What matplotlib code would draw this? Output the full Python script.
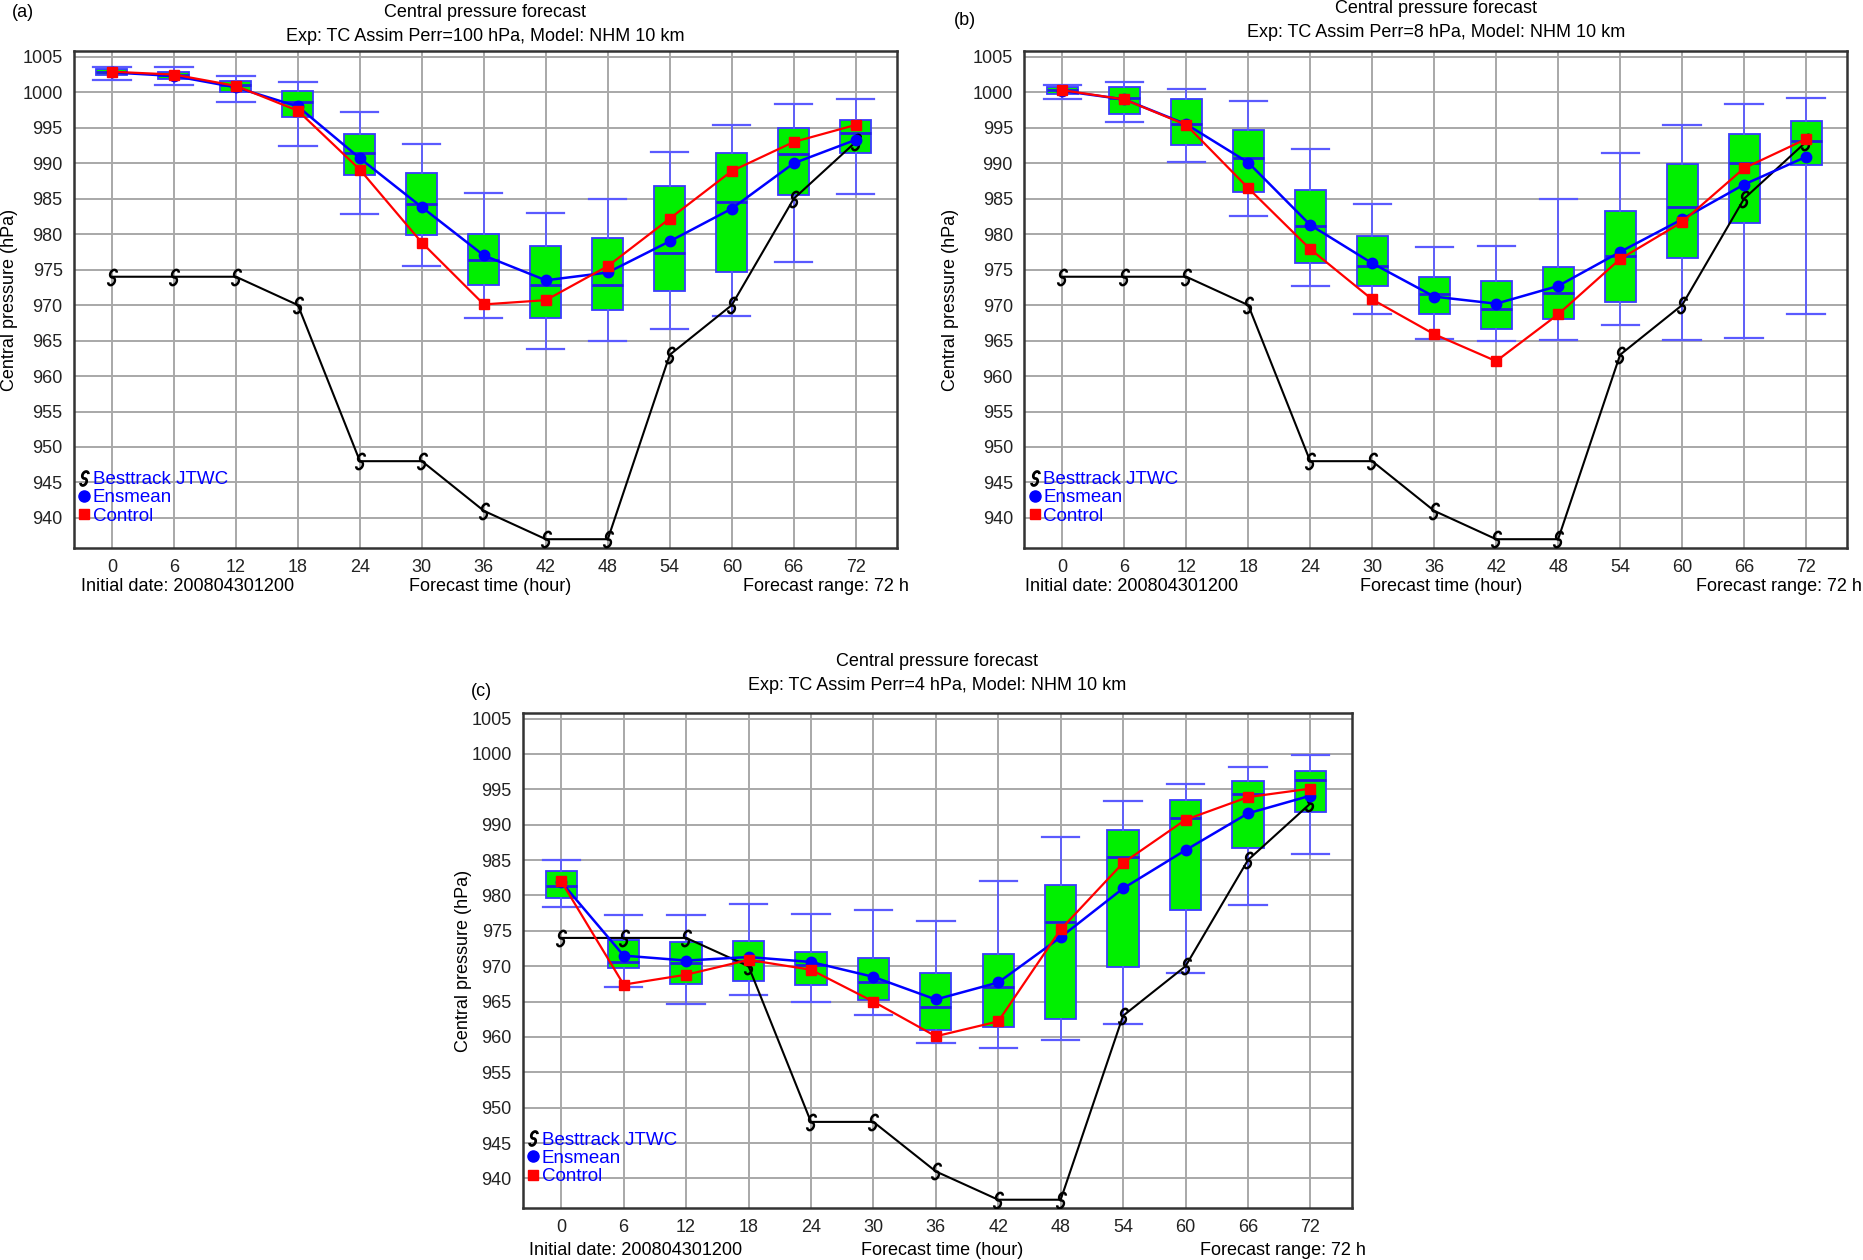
import matplotlib
matplotlib.use("Agg")
import matplotlib.pyplot as plt
import numpy as np
from matplotlib.lines import Line2D
from matplotlib.path import Path

plt.rcParams["font.family"] = ["Liberation Sans", "DejaVu Sans"]

hours = [0, 6, 12, 18, 24, 30, 36, 42, 48, 54, 60, 66, 72]
besttrack = [974, 974, 974, 970, 948, 948, 941, 937, 937, 963, 970, 985, 993]

# panel (a) Perr=100 hPa
a_whislo = [1001.8, 1001.0, 998.7, 992.5, 982.8, 975.5, 968.2, 963.8, 965.0, 966.7, 968.4, 976.1, 985.7]
a_q1 = [1002.4, 1001.9, 1000.0, 996.5, 988.4, 979.9, 972.8, 968.2, 969.3, 972.0, 974.6, 985.5, 991.5]
a_med = [1002.8, 1002.4, 1001.0, 998.7, 991.5, 984.2, 976.4, 972.8, 972.9, 977.3, 984.6, 991.3, 994.3]
a_q3 = [1003.3, 1002.9, 1001.6, 1000.2, 994.1, 988.6, 980.0, 978.4, 979.4, 986.8, 991.5, 994.9, 996.1]
a_whishi = [1003.6, 1003.5, 1002.3, 1001.4, 997.2, 992.7, 985.8, 983.0, 985.0, 991.6, 995.4, 998.4, 999.1]
a_mean = [1002.8, 1002.3, 1000.7, 998.0, 990.7, 983.8, 977.0, 973.5, 974.6, 979.0, 983.6, 990.0, 993.3]
a_ctrl = [1002.9, 1002.5, 1000.9, 997.4, 989.1, 978.8, 970.1, 970.7, 975.5, 982.2, 988.9, 993.0, 995.4]

# panel (b) Perr=8 hPa
b_whislo = [999.0, 995.8, 990.2, 982.6, 972.7, 968.7, 965.2, 965.0, 965.1, 967.2, 965.1, 965.3, 968.7]
b_q1 = [999.7, 997.0, 992.6, 985.9, 975.9, 972.7, 968.8, 966.6, 968.1, 970.4, 976.6, 981.6, 989.7]
b_med = [1000.3, 999.2, 995.5, 990.8, 981.1, 975.5, 971.5, 969.5, 971.7, 976.9, 983.9, 990.0, 993.1]
b_q3 = [1000.7, 1000.7, 999.0, 994.7, 986.2, 979.7, 974.0, 973.4, 975.4, 983.2, 989.9, 994.1, 996.0]
b_whishi = [1001.0, 1001.5, 1000.4, 998.8, 992.0, 984.3, 978.2, 978.3, 985.0, 991.5, 995.4, 998.4, 999.2]
b_mean = [1000.2, 999.0, 995.5, 990.1, 981.3, 975.9, 971.2, 970.2, 972.7, 977.5, 982.1, 987.0, 990.9]
b_ctrl = [1000.3, 999.0, 995.4, 986.5, 977.9, 970.8, 965.9, 962.1, 968.7, 976.5, 981.7, 989.3, 993.4]

# panel (c) Perr=4 hPa
c_whislo = [978.3, 967.0, 964.6, 966.0, 965.0, 963.1, 959.1, 958.5, 959.6, 961.8, 969.0, 978.7, 985.9]
c_q1 = [979.7, 969.7, 967.5, 967.9, 967.3, 965.2, 961.0, 961.4, 962.6, 969.9, 978.0, 986.7, 991.8]
c_med = [981.4, 970.6, 970.5, 970.8, 970.2, 967.8, 964.3, 967.0, 976.2, 985.5, 990.9, 994.4, 996.3]
c_q3 = [983.4, 973.7, 973.4, 973.5, 972.0, 971.2, 969.0, 971.7, 981.5, 989.2, 993.5, 996.2, 997.6]
c_whishi = [985.0, 977.3, 977.2, 978.8, 977.4, 977.9, 976.4, 982.0, 988.3, 993.4, 995.8, 998.1, 999.8]
c_mean = [981.9, 971.5, 970.8, 971.3, 970.6, 968.5, 965.3, 967.7, 974.1, 981.0, 986.4, 991.6, 994.1]
c_ctrl = [982.0, 967.4, 968.8, 970.9, 969.5, 965.0, 960.1, 962.2, 975.2, 984.6, 990.7, 993.9, 995.1]

panels = [
    dict(tag="(a)", perr="100", rect=[0.0396, 0.5653, 0.4419, 0.3941],
         stats=(a_whislo, a_q1, a_med, a_q3, a_whishi), mean=a_mean, ctrl=a_ctrl,
         t1=1.077, t2=1.029, tag_xy=(-0.075, 1.077), ylab_x=-0.078,
         info_y=-0.079, info_l=0.009, info_r=1.014),
    dict(tag="(b)", perr="8", rect=[0.5497, 0.5653, 0.4419, 0.3941],
         stats=(b_whislo, b_q1, b_med, b_q3, b_whishi), mean=b_mean, ctrl=b_ctrl,
         t1=1.086, t2=1.038, tag_xy=(-0.085, 1.062), ylab_x=-0.089,
         info_y=-0.079, info_l=0.0015, info_r=1.018),
    dict(tag="(c)", perr="4", rect=[0.2806, 0.0411, 0.4451, 0.3931],
         stats=(c_whislo, c_q1, c_med, c_q3, c_whishi), mean=c_mean, ctrl=c_ctrl,
         t1=1.103, t2=1.056, tag_xy=(-0.063, 1.043), ylab_x=-0.072,
         info_y=-0.086, info_l=0.007, info_r=1.017),
]

FS = 13


def tc_symbol():
    # open "S"-like tropical cyclone glyph
    t1 = np.radians(np.linspace(15, 270, 30))
    upper = np.column_stack([0.42 * np.cos(t1), 0.5 + 0.5 * np.sin(t1)])
    t2 = np.radians(np.linspace(90, -165, 30))
    lower = np.column_stack([0.42 * np.cos(t2), -0.5 + 0.5 * np.sin(t2)])
    verts = np.vstack([upper, lower[1:]])
    verts = verts @ np.array([[1.0, 0.0], [0.25, 1.0]])
    codes = [Path.MOVETO] + [Path.LINETO] * (len(verts) - 1)
    return Path(verts, codes)


TC_MARKER = tc_symbol()

fig = plt.figure(figsize=(18.63, 12.6), dpi=100)

for p in panels:
    ax = fig.add_axes(p["rect"])
    lo, q1, med, q3, hi = p["stats"]
    bstats = [
        dict(whislo=lo[i], q1=q1[i], med=med[i], q3=q3[i], whishi=hi[i], fliers=[])
        for i in range(len(hours))
    ]
    ax.bxp(bstats, positions=hours, widths=3.0, capwidths=3.6, showfliers=False,
           patch_artist=True, manage_ticks=False,
           boxprops=dict(facecolor="#00f000", edgecolor="#3a3aff", linewidth=1.3),
           medianprops=dict(color="#2020e0", linewidth=2.0),
           whiskerprops=dict(color="#5a5aff", linewidth=1.3),
           capprops=dict(color="#5a5aff", linewidth=1.6), zorder=2)

    ax.plot(hours, besttrack, color="black", lw=1.5, marker=TC_MARKER,
            markersize=11, markerfacecolor="none", markeredgecolor="black",
            markeredgewidth=1.8, zorder=3)
    ax.plot(hours, p["mean"], color="#0000ff", lw=1.8, marker="o",
            markersize=7.5, zorder=4)
    ax.plot(hours, p["ctrl"], color="#ff0000", lw=1.6, marker="s",
            markersize=6.5, zorder=5)

    ax.set_xlim(-3.7, 76)
    ax.set_ylim(935.8, 1005.8)
    ax.set_xticks(hours)
    ax.set_yticks(range(940, 1006, 5))
    ax.tick_params(length=0, labelsize=FS, pad=8, colors="#222222")
    ax.grid(True, color="#a8a8a8", lw=1.4)
    ax.set_axisbelow(True)
    for sp in ax.spines.values():
        sp.set_linewidth(1.8)
        sp.set_color("#333333")

    ax.text(0.5, p["t1"], "Central pressure forecast", transform=ax.transAxes,
            ha="center", va="center", fontsize=FS)
    ax.text(0.5, p["t2"], f"Exp: TC Assim Perr={p['perr']} hPa, Model: NHM 10 km",
            transform=ax.transAxes, ha="center", va="center", fontsize=FS)
    ax.text(p["tag_xy"][0], p["tag_xy"][1], p["tag"], transform=ax.transAxes,
            ha="left", va="center", fontsize=FS)
    ax.text(p["ylab_x"], 0.5, "Central pressure (hPa)", transform=ax.transAxes,
            rotation=90, ha="center", va="center", fontsize=FS)
    ax.text(p["info_l"], p["info_y"], "Initial date: 200804301200", transform=ax.transAxes,
            ha="left", va="center", fontsize=FS)
    ax.text(0.506, p["info_y"], "Forecast time (hour)", transform=ax.transAxes,
            ha="center", va="center", fontsize=FS)
    ax.text(p["info_r"], p["info_y"], "Forecast range: 72 h", transform=ax.transAxes,
            ha="right", va="center", fontsize=FS)

    handles = [
        Line2D([], [], marker=TC_MARKER, markersize=10, markerfacecolor="none",
               markeredgecolor="black", markeredgewidth=2.0, linestyle="none"),
        Line2D([], [], color="#0000ff", marker="o", markersize=8, linestyle="none"),
        Line2D([], [], color="#ff0000", marker="s", markersize=7, linestyle="none"),
    ]
    ax.legend(handles, ["Besttrack JTWC", "Ensmean", "Control"], loc="lower left",
              bbox_to_anchor=(-0.01, 0.02), frameon=False, fontsize=FS + 0.5,
              handlelength=0.6, handletextpad=0.15, labelspacing=0.06,
              borderpad=0.2, labelcolor="#0000ff")

fig.savefig("out.png", dpi=100)
